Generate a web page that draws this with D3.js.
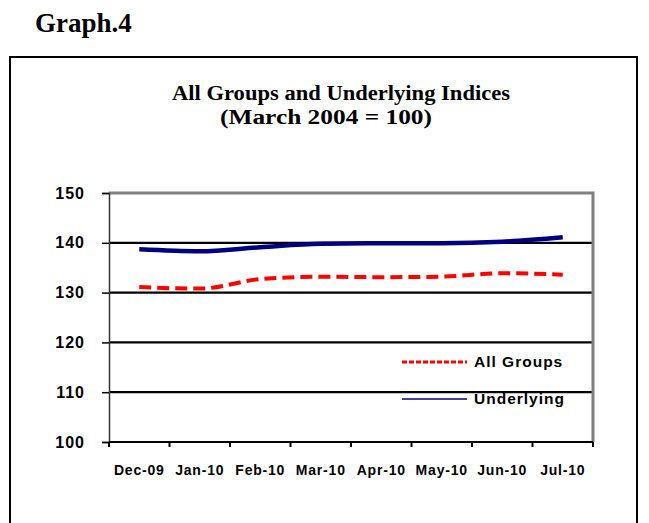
<!DOCTYPE html>
<html>
<head>
<meta charset="utf-8">
<script src="https://cdn.jsdelivr.net/npm/d3@7"></script>
<style>
  body{margin:0;background:#fff;}
  svg{display:block;}
</style>
</head>
<body>
<svg width="649" height="523"></svg>
<script>
// data
var months=['Dec-09','Jan-10','Feb-10','Mar-10','Apr-10','May-10','Jun-10','Jul-10'];
var allGroups=[131.1,130.8,132.7,133.2,133.1,133.2,133.9,133.6];
var underlying=[138.7,138.3,139.1,139.8,139.9,139.9,140.2,141.1];
var yTicks=[100,110,120,130,140,150];

var svg=d3.select('svg');
var margin={top:193,left:109,right:56,bottom:81};
var plotWidth=649-margin.left-margin.right;
var plotHeight=523-margin.top-margin.bottom;

// heading + outer frame
svg.append('text').attr('x',35).attr('y',32)
  .attr('font-family','Liberation Serif').attr('font-weight','bold').attr('font-size',27)
  .text('Graph.4');
svg.append('rect').attr('x',10).attr('y',57).attr('width',627).attr('height',480)
  .attr('fill','none').attr('stroke','#000').attr('stroke-width',2);

svg.append('text').attr('x',172).attr('y',100)
  .attr('font-family','Liberation Serif').attr('font-weight','bold').attr('font-size',20)
  .attr('textLength',338).attr('lengthAdjust','spacingAndGlyphs')
  .text('All Groups and Underlying Indices');
svg.append('text').attr('x',220).attr('y',124)
  .attr('font-family','Liberation Serif').attr('font-weight','bold').attr('font-size',20)
  .attr('textLength',212).attr('lengthAdjust','spacingAndGlyphs')
  .text('(March 2004 = 100)');

var x=d3.scaleBand().domain(months).range([0,plotWidth]).padding(0);
var y=d3.scaleLinear().domain([100,150]).range([plotHeight,0]);

var plot=svg.append('g').attr('transform','translate('+margin.left+','+margin.top+')');

// gridlines
plot.selectAll('line.grid').data(yTicks.filter(function(d){return d>100&&d<150;}))
  .enter().append('line').attr('class','grid')
  .attr('x1',0).attr('x2',plotWidth)
  .attr('y1',function(d){return y(d);}).attr('y2',function(d){return y(d);})
  .attr('stroke','#000').attr('stroke-width',2.2);

// gray top/right border
plot.append('path')
  .attr('d','M0,'+y(150)+'H'+plotWidth+'V'+plotHeight)
  .attr('fill','none').attr('stroke','#808080').attr('stroke-width',3);

// y axis
var yAxis=d3.axisLeft(y).tickValues(yTicks).tickSize(7).tickPadding(17);
var yGroup=plot.append('g').call(yAxis);
yGroup.select('.domain').attr('stroke','#333').attr('stroke-width',1.5);
yGroup.selectAll('.tick line').attr('stroke','#000').attr('stroke-width',1.5);
yGroup.selectAll('text').attr('font-family','Liberation Sans').attr('font-weight','bold')
  .attr('font-size',16).attr('letter-spacing',1).attr('fill','#000');

// x axis: labels centered in the bands, ticks on band edges
var xAxis=d3.axisBottom(x).tickSize(0).tickPadding(23);
var xGroup=plot.append('g').attr('transform','translate(0,'+plotHeight+')').call(xAxis);
xGroup.select('.domain').remove();
xGroup.selectAll('text').attr('font-family','Liberation Sans').attr('font-weight','bold')
  .attr('font-size',14).attr('letter-spacing',0.8).attr('fill','#000');
plot.append('line').attr('x1',0).attr('x2',plotWidth)
  .attr('y1',plotHeight).attr('y2',plotHeight).attr('stroke','#000').attr('stroke-width',2);
var edges=months.map(function(m){return x(m);}).concat([plotWidth]);
plot.selectAll('line.xtick').data(edges).enter().append('line').attr('class','xtick')
  .attr('x1',function(d){return d;}).attr('x2',function(d){return d;})
  .attr('y1',plotHeight).attr('y2',plotHeight+5)
  .attr('stroke','#000').attr('stroke-width',2);

// series
var line=d3.line()
  .x(function(d,i){return x(months[i])+x.bandwidth()/2;})
  .y(function(d){return y(d);})
  .curve(d3.curveMonotoneX);

plot.append('path').datum(underlying).attr('d',line)
  .attr('fill','none').attr('stroke','#000080').attr('stroke-width',4.5);
plot.append('path').datum(allGroups).attr('d',line)
  .attr('fill','none').attr('stroke','#ff0000').attr('stroke-width',4)
  .attr('stroke-dasharray','12,6');

// legend
var legend=[
  {name:'All Groups',color:'#ff0000',width:3,dash:'5,2',y:362},
  {name:'Underlying',color:'#000080',width:1.5,dash:null,y:399}
];
var lg=svg.selectAll('g.legend').data(legend).enter().append('g').attr('class','legend');
lg.append('line').attr('x1',402).attr('x2',467)
  .attr('y1',function(d){return d.y;}).attr('y2',function(d){return d.y;})
  .attr('stroke',function(d){return d.color;})
  .attr('stroke-width',function(d){return d.width;})
  .attr('stroke-dasharray',function(d){return d.dash;});
lg.append('text').attr('x',474).attr('y',function(d){return d.y+5;})
  .attr('font-family','Liberation Sans').attr('font-weight','bold').attr('font-size',15.5)
  .attr('letter-spacing',1)
  .text(function(d){return d.name;});
</script>
</body>
</html>
